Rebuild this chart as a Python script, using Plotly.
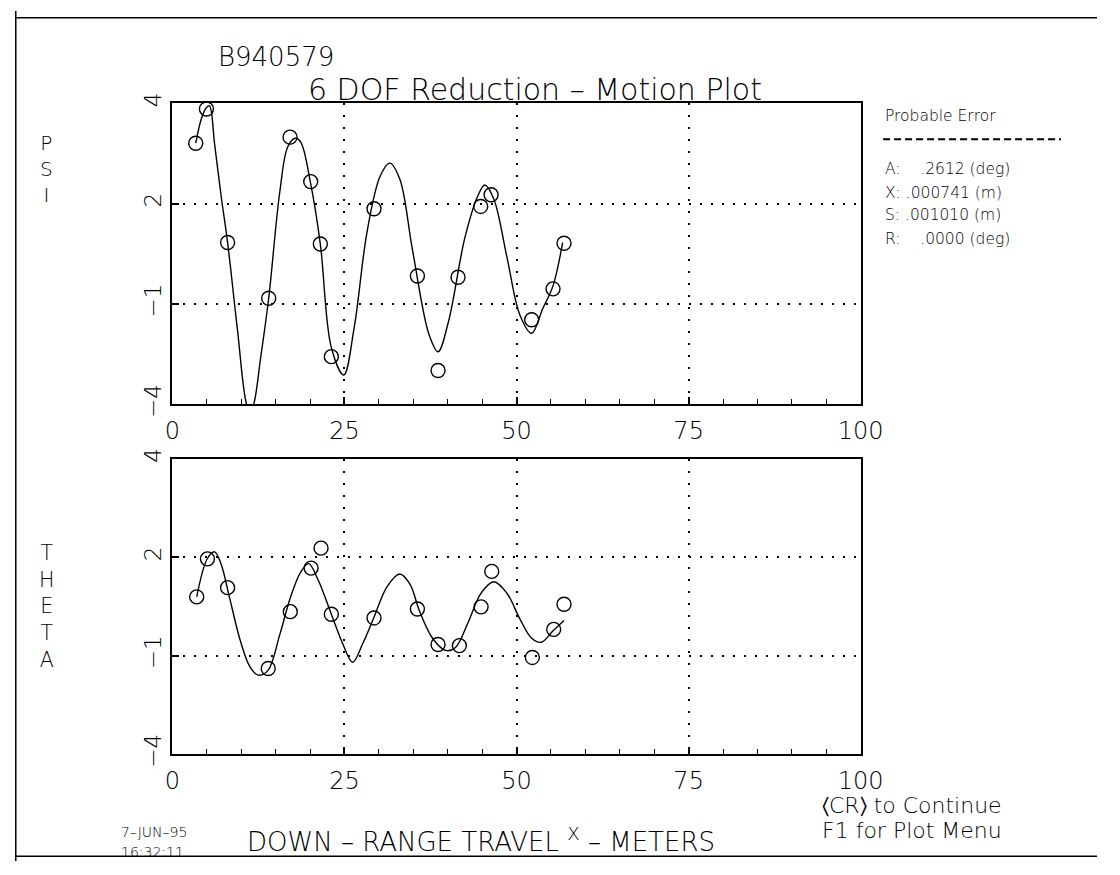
import plotly.graph_objects as go

W, H = 1120, 875

# ---------------- data ----------------
x_tick_vals = [0, 25, 50, 75, 100]
x_tick_text = ["0", "25", "50", "75", "100"]
y_tick_vals = [4, 4 / 3, -4 / 3, -4]
y_tick_text = ["4", "2", "\u22121", "\u22124"]

psi_x = [3.4, 4.96, 8.03, 14.0, 17.1, 20.1, 21.5, 23.1, 29.3, 35.6, 38.6, 41.5, 44.8, 46.3, 52.2, 55.3, 56.9]
psi_y = [2.94, 3.85, 0.30, -1.18, 3.10, 1.92, 0.26, -2.73, 1.20, -0.59, -3.10, -0.62, 1.26, 1.57, -1.75, -0.93, 0.28]

psi_fit_x = [3.4, 4.25, 4.96, 5.4, 6.14, 7.08, 8.03, 9.44, 10.8, 11.3, 11.8, 12.8, 14.0, 15.6, 16.76, 17.85,
             18.65, 20.07, 21.5, 23.1, 24.9, 26.4, 28.3, 30.2, 31.6, 33.05, 34.9, 37.3, 38.6, 40.1, 42.5,
             44.4, 45.4, 46.7, 48.6, 50.5, 52.2, 53.8, 55.3, 56.7]
psi_fit_y = [2.94, 3.61, 3.89, 3.93, 2.92, 1.55, 0.30, -1.98, -4.0, -4.15, -4.0, -2.8, -1.18, 1.63, 2.84, 3.07,
             2.97, 1.89, 0.26, -2.49, -3.22, -1.98, 0.60, 2.07, 2.41, 1.98, 0.09, -2.15, -2.60, -1.81, 0.43,
             1.55, 1.83, 1.46, -0.08, -1.63, -2.11, -1.46, -0.85, 0.30]

theta_x = [3.54, 5.1, 8.03, 13.93, 17.14, 20.16, 21.6, 23.1, 29.3, 35.6, 38.6, 41.7, 44.85, 46.4, 52.3, 55.4, 56.9]
theta_y = [0.26, 1.29, 0.51, -1.68, -0.14, 1.04, 1.58, -0.21, -0.31, -0.07, -1.03, -1.06, -0.01, 0.95, -1.38, -0.62, 0.06]

theta_fit_x = [3.54, 5.1, 6.14, 7.08, 8.26, 9.9, 11.3, 12.5, 13.9, 15.6, 17.2, 18.65, 19.8, 21.2, 23.1, 24.8,
               26.2, 27.6, 29.3, 31.2, 33.05, 34.5, 35.9, 37.8, 39.7, 41.1, 43.0, 44.85, 46.7, 48.6, 50.5,
               52.2, 53.6, 55.2, 56.9]
theta_fit_y = [0.26, 1.30, 1.48, 1.15, 0.28, -0.94, -1.64, -1.86, -1.73, -0.77, 0.27, 0.93, 1.16, 0.71, -0.21,
               -1.03, -1.51, -1.03, -0.29, 0.54, 0.88, 0.61, -0.12, -0.86, -1.19, -1.12, -0.42, 0.36, 0.67,
               0.36, -0.34, -0.86, -0.97, -0.68, -0.38]

psi_label = ["P", "S", "I"]
theta_label = ["T", "H", "E", "T", "A"]
error_title = "Probable Error"
error_lines = ["A:\u00a0\u00a0\u00a0\u00a0.2612 (deg)", "X: .000741 (m)", "S: .001010 (m)", "R:\u00a0\u00a0\u00a0\u00a0.0000 (deg)"]

# ---------------- helpers (pixel -> paper) ----------------
def px(x):
    return x / W

def py(y):
    return 1 - y / H

FONT = "DejaVu Sans"
INK = "black"

fig = go.Figure()

fig.add_trace(go.Scatter(x=psi_fit_x, y=psi_fit_y, mode="lines",
                         line=dict(color=INK, width=1.4, shape="spline", smoothing=1.0),
                         xaxis="x", yaxis="y", showlegend=False, hoverinfo="skip"))
fig.add_trace(go.Scatter(x=psi_x, y=psi_y, mode="markers",
                         marker=dict(symbol="circle-open", size=14, color=INK, line=dict(width=1.4, color=INK)),
                         xaxis="x", yaxis="y", showlegend=False, cliponaxis=False))
fig.add_trace(go.Scatter(x=theta_fit_x, y=theta_fit_y, mode="lines",
                         line=dict(color=INK, width=1.4, shape="spline", smoothing=1.0),
                         xaxis="x2", yaxis="y2", showlegend=False, hoverinfo="skip"))
fig.add_trace(go.Scatter(x=theta_x, y=theta_y, mode="markers",
                         marker=dict(symbol="circle-open", size=14, color=INK, line=dict(width=1.4, color=INK)),
                         xaxis="x2", yaxis="y2", showlegend=False, cliponaxis=False))

xdom = [px(169), px(877)]

def xaxis_cfg(anchor):
    return dict(domain=xdom, anchor=anchor, range=[0, 100], tickvals=x_tick_vals, ticktext=x_tick_text,
                ticks="inside", ticklen=7, tickwidth=1.5, tickcolor=INK,
                showgrid=True, gridcolor=INK, gridwidth=1.5, griddash="2px,10px",
                showline=True, mirror=True, linewidth=2.2, linecolor=INK, zeroline=False,
                minor=dict(dtick=5, ticks="inside", ticklen=5, tickcolor=INK, tickwidth=1.2, showgrid=False),
                tickfont=dict(family=FONT, size=24, color=INK, weight=200), ticklabelstandoff=4,
                fixedrange=True)

def yaxis_cfg(anchor, top, bottom):
    return dict(domain=[py(bottom), py(top)], anchor=anchor, range=[-4, 4], tickvals=y_tick_vals, ticktext=y_tick_text,
                tickangle=-90, ticks="inside", ticklen=7, tickwidth=1.5, tickcolor=INK,
                showgrid=True, gridcolor=INK, gridwidth=1.5, griddash="2px,9px",
                showline=True, mirror=True, linewidth=2.2, linecolor=INK, zeroline=False,
                tickfont=dict(family=FONT, size=23, color=INK, weight=200), ticklabelstandoff=0,
                fixedrange=True)

fig.update_layout(
    width=W, height=H, autosize=False,
    margin=dict(l=0, r=0, t=0, b=0),
    paper_bgcolor="white", plot_bgcolor="white",
    xaxis=xaxis_cfg("y"),
    yaxis=yaxis_cfg("x", 95, 405),
    xaxis2=xaxis_cfg("y2"),
    yaxis2=yaxis_cfg("x2", 461, 765),
    font=dict(family=FONT, color=INK),
)

ann = []

def text(t, x, y, size, xanchor="left", yanchor="middle"):
    ann.append(dict(text=t, x=px(x), y=py(y), xref="paper", yref="paper", showarrow=False,
                    xanchor=xanchor, yanchor=yanchor,
                    font=dict(family=FONT, size=size, color=INK, weight=200)))

text("B940579", 214, 47, 26)
text("6 DOF Reduction \u2013 Motion Plot", 306, 81, 30)

text(error_title, 900, 108, 15.5)
for i, line in enumerate(error_lines):
    text(line, 900, [163, 187, 210, 235][i], 15.5)

text("<br>".join(psi_label), 40, 163, 20, xanchor="center")
text("<br>".join(theta_label), 40, 613, 20.5, xanchor="center")

text("\u2329CR\u232a to Continue", 930, 818, 22, xanchor="center")
text("F1 for Plot Menu", 930, 844, 22, xanchor="center")
text("DOWN \u2013 RANGE TRAVEL <sup>X</sup> \u2013 METERS", 244, 853, 26)
text("7\u2013JUN\u201395", 114, 845, 14)
text("16:32:11", 114, 866, 14)

fig.update_layout(annotations=ann)

shapes = [
    # dashed rule under "Probable Error"
    dict(type="line", xref="paper", yref="paper", x0=px(900), x1=px(1083), y0=py(132), y1=py(132),
         line=dict(color=INK, width=1.8, dash="7px,4px")),
    # page border
    dict(type="line", xref="paper", yref="paper", x0=px(8), x1=px(8), y0=py(0), y1=py(875), line=dict(color=INK, width=1.5)),
    dict(type="line", xref="paper", yref="paper", x0=px(8), x1=px(1120), y0=py(7), y1=py(7), line=dict(color=INK, width=1.5)),
    dict(type="line", xref="paper", yref="paper", x0=px(8), x1=px(1120), y0=py(870), y1=py(870), line=dict(color=INK, width=1.5)),
]
fig.update_layout(shapes=shapes)

fig.write_html("out.html", post_script="document.body.style.margin='0px';")
